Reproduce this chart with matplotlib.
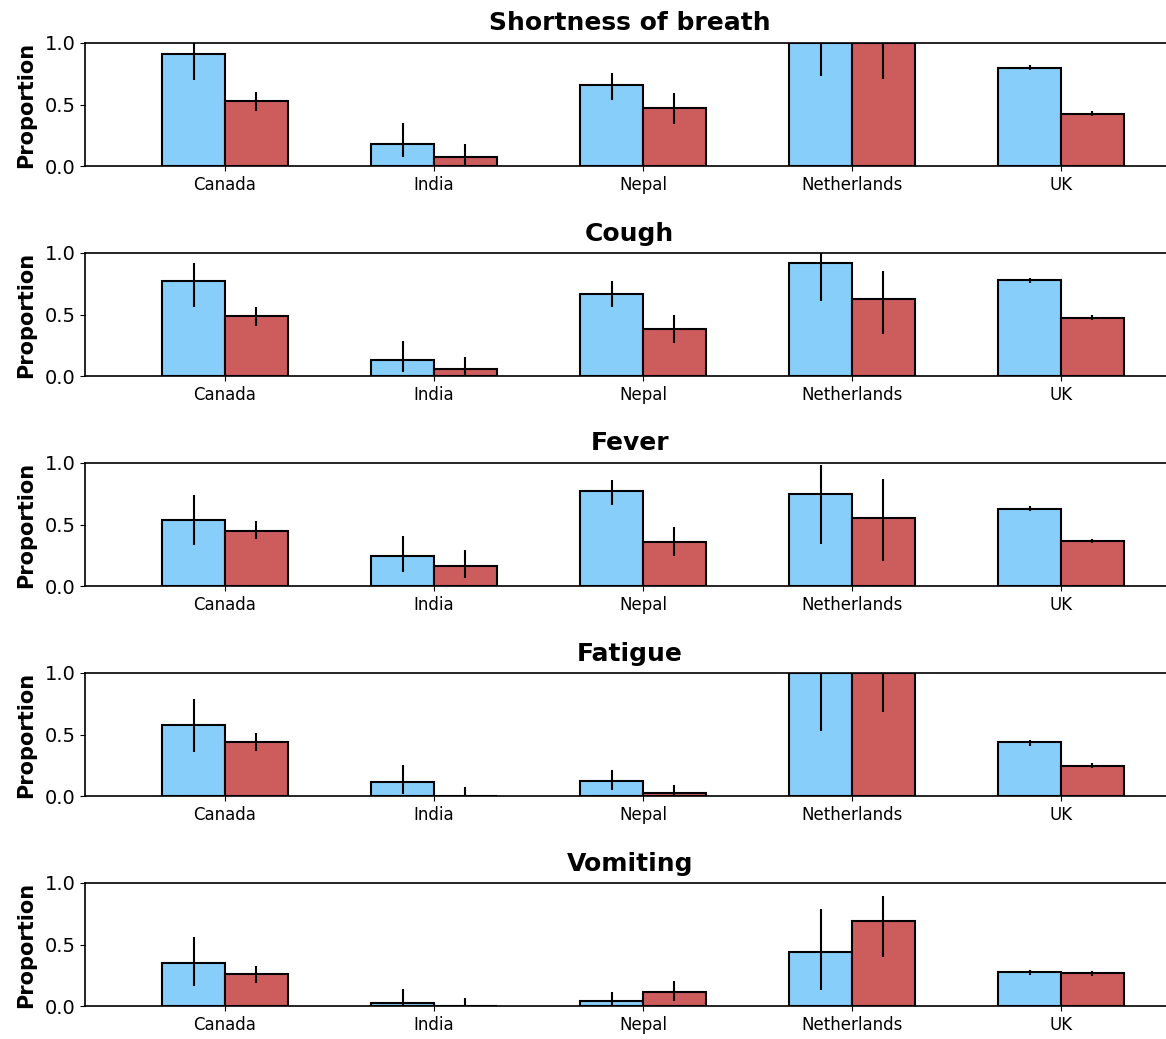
import numpy as np
import matplotlib
matplotlib.use("Agg")
import matplotlib.pyplot as plt

# Dados
countries = ["Canada", "India", "Nepal", "Netherlands", "UK"]
symptoms = ["Shortness of breath", "Cough", "Fever", "Fatigue", "Vomiting"]

# primeira série (azul): proporção, limite inferior, limite superior
blue_vals = [
    [0.91, 0.18, 0.66, 1.00, 0.80],
    [0.77, 0.13, 0.67, 0.92, 0.78],
    [0.54, 0.24, 0.77, 0.75, 0.63],
    [0.58, 0.11, 0.12, 1.00, 0.44],
    [0.35, 0.025, 0.04, 0.44, 0.28],
]
blue_lo = [
    [0.70, 0.07, 0.54, 0.73, 0.78],
    [0.56, 0.035, 0.56, 0.61, 0.76],
    [0.33, 0.11, 0.66, 0.34, 0.61],
    [0.36, 0.02, 0.05, 0.53, 0.41],
    [0.16, 0.0, 0.0, 0.13, 0.255],
]
blue_hi = [
    [1.05, 0.35, 0.76, 1.05, 0.82],
    [0.92, 0.285, 0.77, 1.05, 0.80],
    [0.74, 0.41, 0.86, 0.98, 0.65],
    [0.79, 0.255, 0.21, 1.05, 0.455],
    [0.56, 0.14, 0.11, 0.79, 0.295],
]

# segunda série (vermelha)
red_vals = [
    [0.53, 0.07, 0.47, 1.00, 0.425],
    [0.485, 0.055, 0.38, 0.63, 0.475],
    [0.45, 0.16, 0.355, 0.555, 0.365],
    [0.44, 0.0, 0.027, 1.00, 0.247],
    [0.257, 0.0, 0.114, 0.69, 0.266],
]
red_lo = [
    [0.45, 0.0, 0.345, 0.705, 0.405],
    [0.41, 0.0, 0.265, 0.345, 0.455],
    [0.38, 0.065, 0.24, 0.20, 0.348],
    [0.365, 0.0, 0.0, 0.685, 0.228],
    [0.19, 0.0, 0.04, 0.40, 0.247],
]
red_hi = [
    [0.60, 0.175, 0.59, 1.05, 0.445],
    [0.56, 0.155, 0.50, 0.855, 0.497],
    [0.525, 0.29, 0.48, 0.87, 0.386],
    [0.515, 0.07, 0.09, 1.05, 0.266],
    [0.325, 0.065, 0.205, 0.895, 0.285],
]

BLUE = "lightskyblue"
RED = "indianred"
largura = 0.3
x = np.arange(len(countries))

fig = plt.figure(figsize=(11.66, 10.39), dpi=100)
W, H = 1166, 1039

for i, sym in enumerate(symptoms):
    top = 43 + 210 * i
    ax = fig.add_axes([85 / W, 1 - (top + 123) / H, (W - 85) / W, 123 / H])

    bv = np.array(blue_vals[i])
    rv = np.array(red_vals[i])
    berr = [bv - np.array(blue_lo[i]), np.array(blue_hi[i]) - bv]
    rerr = [rv - np.array(red_lo[i]), np.array(red_hi[i]) - rv]

    ax.bar(x - largura / 2, bv, largura, color=BLUE, edgecolor="black",
           linewidth=1.5, yerr=berr, error_kw=dict(ecolor="black", elinewidth=1.5, capsize=0))
    ax.bar(x + largura / 2, rv, largura, color=RED, edgecolor="black",
           linewidth=1.5, yerr=rerr, error_kw=dict(ecolor="black", elinewidth=1.5, capsize=0))

    ax.set_xlim(-0.67, 4.502)
    ax.set_ylim(0, 1)
    ax.set_yticks([0.0, 0.5, 1.0])
    ax.set_yticklabels(["0.0", "0.5", "1.0"], fontsize=14)
    ax.set_xticks(x)
    ax.set_xticklabels(countries, fontsize=12)
    ax.set_ylabel("Proportion", fontsize=15, fontweight="bold", labelpad=6)
    ax.set_title(sym, fontsize=18, fontweight="bold", pad=9, x=0.504)
    ax.spines["right"].set_visible(False)
    for s in ["left", "bottom", "top"]:
        ax.spines[s].set_linewidth(1.2)

fig.savefig("out.png", dpi=100)
